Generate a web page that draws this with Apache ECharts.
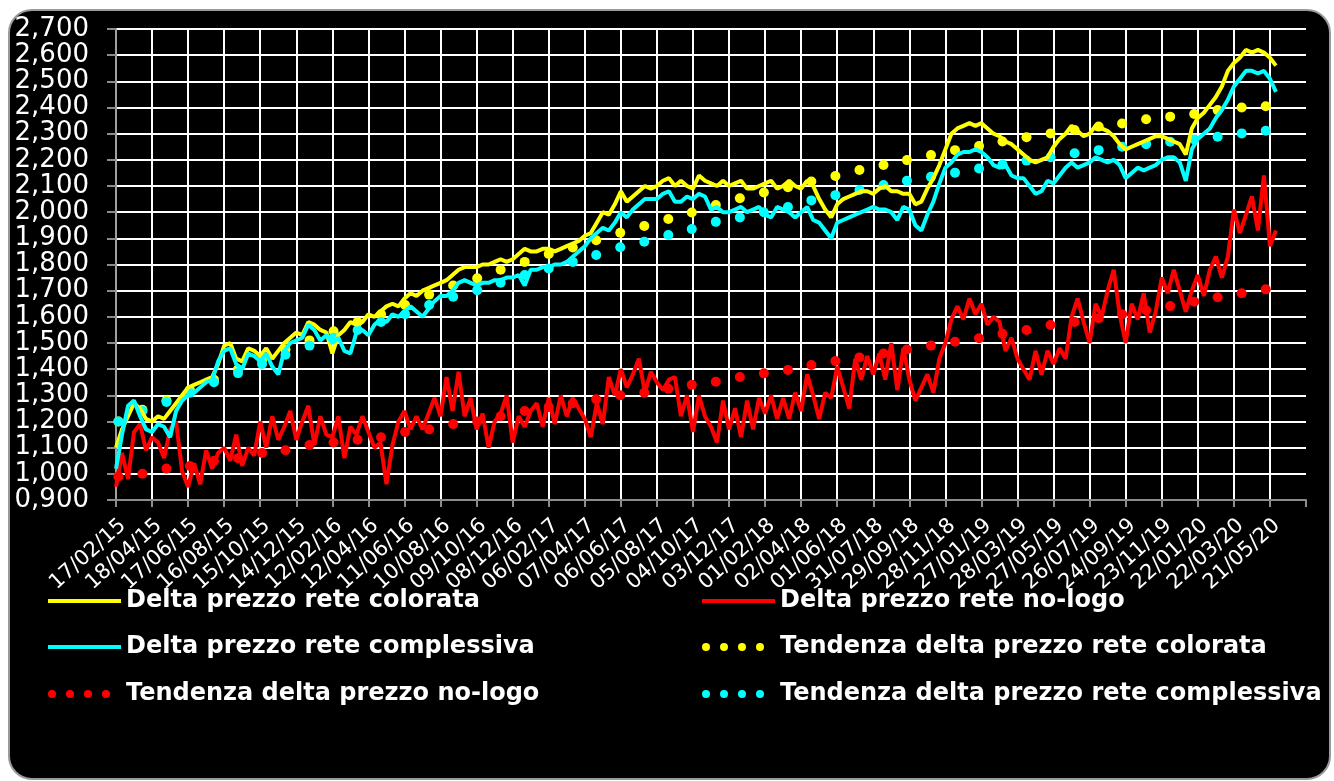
<!DOCTYPE html>
<html><head><meta charset="utf-8">
<script src="https://cdn.jsdelivr.net/npm/echarts@6/dist/echarts.min.js"></script>
<style>
html,body{margin:0;padding:0;background:#fff;width:1334px;height:781px;overflow:hidden}
#frame{position:absolute;left:8px;top:9px;width:1319px;height:767px;background:#000;border:2px solid #9a9a9a;border-radius:24px;}
#chart{position:absolute;left:0;top:0;width:1334px;height:781px}
</style></head><body>
<div id="frame"></div><div id="chart"></div>
<script>
// Day 0 = 17/02/2015; main series sampled every 10 days
const startDate = [2015, 1, 17];
const stepDays = 10;
const tickDays = 60;

const colorata = [1.10,1.17,1.22,1.27,1.25,1.21,1.20,1.22,1.21,1.24,
 1.27,1.30,1.33,1.34,1.35,1.36,1.37,1.42,1.49,1.50,
 1.44,1.43,1.48,1.47,1.45,1.48,1.44,1.47,1.50,1.52,
 1.54,1.53,1.58,1.57,1.55,1.54,1.46,1.53,1.55,1.58,
 1.57,1.58,1.61,1.60,1.62,1.64,1.65,1.64,1.67,1.69,
 1.68,1.70,1.71,1.72,1.73,1.74,1.76,1.78,1.79,1.79,
 1.79,1.80,1.80,1.81,1.82,1.81,1.82,1.84,1.86,1.85,
 1.85,1.86,1.86,1.85,1.86,1.87,1.88,1.89,1.91,1.92,
 1.96,2.00,1.99,2.03,2.08,2.04,2.06,2.08,2.10,2.09,
 2.10,2.12,2.13,2.10,2.12,2.10,2.09,2.14,2.12,2.11,
 2.10,2.12,2.10,2.11,2.12,2.09,2.09,2.10,2.11,2.12,
 2.09,2.10,2.12,2.10,2.09,2.12,2.10,2.05,2.01,1.98,
 2.03,2.05,2.06,2.07,2.08,2.08,2.07,2.09,2.10,2.08,
 2.08,2.07,2.07,2.03,2.04,2.09,2.13,2.18,2.24,2.30,
 2.32,2.33,2.34,2.33,2.34,2.32,2.30,2.29,2.27,2.26,
 2.24,2.22,2.20,2.19,2.20,2.21,2.25,2.28,2.30,2.33,
 2.31,2.29,2.30,2.33,2.32,2.31,2.29,2.26,2.24,2.25,
 2.26,2.27,2.28,2.29,2.29,2.28,2.27,2.26,2.22,2.32,
 2.36,2.38,2.41,2.44,2.48,2.54,2.57,2.59,2.62,2.61,
 2.62,2.61,2.59,2.56];

const complessiva = [1.02,1.15,1.26,1.28,1.22,1.17,1.16,1.19,1.18,1.14,
 1.24,1.28,1.30,1.31,1.33,1.35,1.36,1.43,1.47,1.48,
 1.42,1.40,1.46,1.45,1.43,1.46,1.41,1.38,1.47,1.50,
 1.51,1.52,1.57,1.55,1.51,1.53,1.50,1.52,1.47,1.46,
 1.54,1.55,1.53,1.57,1.59,1.58,1.61,1.60,1.62,1.64,
 1.62,1.60,1.63,1.66,1.68,1.68,1.70,1.73,1.74,1.73,
 1.72,1.73,1.73,1.74,1.74,1.75,1.75,1.76,1.72,1.78,
 1.78,1.79,1.79,1.80,1.80,1.81,1.83,1.85,1.87,1.90,
 1.92,1.94,1.93,1.96,2.00,1.98,2.01,2.03,2.05,2.05,
 2.05,2.07,2.08,2.04,2.04,2.06,2.05,2.07,2.06,2.01,
 2.02,2.00,2.00,2.01,2.02,2.00,2.01,2.02,1.99,1.98,
 2.02,2.01,2.00,1.98,2.00,2.02,1.97,1.96,1.93,1.90,
 1.96,1.97,1.98,1.99,2.00,2.01,2.02,2.01,2.01,2.00,
 1.97,2.02,2.01,1.95,1.93,1.99,2.04,2.11,2.17,2.19,
 2.22,2.23,2.23,2.24,2.23,2.21,2.18,2.17,2.18,2.14,
 2.13,2.13,2.10,2.07,2.08,2.12,2.11,2.14,2.17,2.19,
 2.17,2.18,2.19,2.21,2.20,2.19,2.20,2.18,2.13,2.15,
 2.17,2.16,2.17,2.18,2.20,2.21,2.21,2.19,2.12,2.24,
 2.28,2.30,2.32,2.36,2.39,2.43,2.48,2.51,2.54,2.54,
 2.53,2.54,2.51,2.46];

const noLogo = [0.95,1.08,0.98,1.16,1.19,1.09,1.14,1.12,1.06,1.17,
 1.20,1.01,0.95,1.04,0.96,1.09,1.02,1.08,1.10,1.05,
 1.15,1.03,1.10,1.07,1.20,1.10,1.22,1.13,1.18,1.24,
 1.13,1.20,1.26,1.11,1.22,1.15,1.14,1.22,1.06,1.18,
 1.15,1.22,1.16,1.10,1.12,0.96,1.11,1.20,1.24,1.17,
 1.22,1.17,1.23,1.29,1.22,1.37,1.24,1.39,1.22,1.29,
 1.17,1.23,1.10,1.20,1.23,1.30,1.12,1.22,1.18,1.24,
 1.27,1.18,1.29,1.19,1.30,1.22,1.29,1.25,1.21,1.14,
 1.27,1.19,1.37,1.30,1.40,1.33,1.38,1.44,1.31,1.39,
 1.35,1.32,1.36,1.37,1.22,1.30,1.16,1.30,1.22,1.18,
 1.12,1.28,1.17,1.25,1.14,1.28,1.17,1.29,1.23,1.30,
 1.21,1.29,1.21,1.31,1.24,1.38,1.30,1.21,1.31,1.29,
 1.41,1.33,1.25,1.44,1.36,1.45,1.38,1.46,1.36,1.50,
 1.32,1.48,1.36,1.28,1.33,1.38,1.31,1.44,1.50,1.59,
 1.64,1.59,1.67,1.61,1.65,1.57,1.60,1.58,1.47,1.52,
 1.44,1.40,1.36,1.47,1.38,1.47,1.42,1.48,1.44,1.60,
 1.67,1.58,1.50,1.65,1.60,1.70,1.78,1.61,1.50,1.65,
 1.59,1.69,1.54,1.62,1.75,1.69,1.78,1.70,1.62,1.70,
 1.76,1.68,1.78,1.83,1.75,1.83,2.01,1.92,1.99,2.06,
 1.93,2.14,1.87,1.93];

// Trend points: days since 17/02/2015
const trendDay = [4,44,84,123,163,203,243,282,322,362,402,441,481,521,561,601,640,680,720,760,
 799,839,879,919,958,998,1038,1078,1118,1157,1197,1237,1277,1316,1356,1396,1436,1475,1515,1555,
 1595,1635,1674,1714,1754,1794,1833,1873,1913];
const trendColorata = [1.20,1.245,1.28,1.32,1.36,1.40,1.435,1.475,1.51,1.545,1.58,1.61,1.645,1.685,1.72,1.747,1.78,1.81,1.84,1.865,
 1.893,1.921,1.947,1.974,1.999,2.027,2.053,2.075,2.095,2.117,2.138,2.161,2.18,2.199,2.218,2.237,2.253,2.27,2.286,2.301,
 2.314,2.327,2.339,2.355,2.365,2.375,2.39,2.40,2.405];
const trendNoLogo = [0.99,1.00,1.02,1.03,1.05,1.06,1.08,1.09,1.11,1.12,1.13,1.14,1.16,1.17,1.19,1.20,1.22,1.24,1.255,1.27,
 1.285,1.30,1.31,1.325,1.34,1.352,1.37,1.384,1.397,1.416,1.431,1.445,1.46,1.475,1.49,1.505,1.518,1.535,1.55,1.569,
 1.58,1.595,1.61,1.625,1.641,1.658,1.675,1.69,1.705];
const trendComplessiva = [1.20,1.24,1.275,1.31,1.35,1.385,1.42,1.455,1.49,1.52,1.55,1.58,1.61,1.645,1.677,1.702,1.73,1.76,1.785,1.81,
 1.836,1.866,1.887,1.913,1.936,1.963,1.98,2.00,2.02,2.045,2.065,2.085,2.104,2.12,2.135,2.151,2.167,2.182,2.197,2.21,
 2.225,2.237,2.25,2.26,2.269,2.278,2.288,2.301,2.311];

const names = ['Delta prezzo rete colorata','Delta prezzo rete no-logo','Delta prezzo rete complessiva',
 'Tendenza delta prezzo rete colorata','Tendenza delta prezzo no-logo','Tendenza delta prezzo rete complessiva'];
const colors = {yellow:'#ffff00', red:'#ff0000', cyan:'#00ffff'};

const lastTickDay = 1920;
const maxDay = 1980;

const t0 = Date.UTC(startDate[0], startDate[1], startDate[2]);
function fmtDay(d){
  const dt = new Date(t0 + Math.round(d) * 86400000);
  const p = n => String(n).padStart(2,'0');
  return p(dt.getUTCDate()) + '/' + p(dt.getUTCMonth()+1) + '/' + p(dt.getUTCFullYear() % 100);
}
const regular = vals => vals.map((v,i)=>[i*stepDays, v]);
const trend = vals => vals.map((v,i)=>[trendDay[i], v]);

const lineIcon = 'path://M0,0h0.05v0.05h-0.05z M0,5h73v4h-73z M72.95,13.95h0.05v0.05h-0.05z';
const dotIcon = 'path://M0,0h0.05v0.05h-0.05z M0,7a4,4 0 1,0 8,0a4,4 0 1,0 -8,0z M18,7a4,4 0 1,0 8,0a4,4 0 1,0 -8,0z M36,7a4,4 0 1,0 8,0a4,4 0 1,0 -8,0z M54,7a4,4 0 1,0 8,0a4,4 0 1,0 -8,0z M72.95,13.95h0.05v0.05h-0.05z';

const legendText = {color:'#fff', fontFamily:'DejaVu Sans', fontWeight:'bold', fontSize:24};
function mkLegend(name, icon, left, top){
  return {data:[{name:name, icon:icon}], left:left, top:top, itemWidth:73, itemHeight:14,
    itemGap:0, padding:0, selectedMode:false, textStyle:legendText, symbolKeepAspect:true};
}

const chart = echarts.init(document.getElementById('chart'), null, {renderer:'canvas'});
chart.setOption({
  backgroundColor:'transparent',
  animation:false,
  grid:{left:116, right:28, top:29, bottom:281},
  legend:[
    mkLegend(names[0], lineIcon, 48, 589),
    mkLegend(names[1], lineIcon, 702, 589),
    mkLegend(names[2], lineIcon, 48, 635),
    mkLegend(names[3], dotIcon, 702, 635),
    mkLegend(names[4], dotIcon, 48, 682),
    mkLegend(names[5], dotIcon, 702, 682)
  ],
  xAxis:{type:'value', min:0, max:maxDay, interval:tickDays,
    axisLine:{lineStyle:{color:'#8c8c8c', width:2}},
    axisTick:{length:7, lineStyle:{color:'#8c8c8c', width:2}},
    axisLabel:{rotate:42, color:'#fff', fontFamily:'DejaVu Sans', fontSize:21, margin:15,
      align:'right', verticalAlign:'top',
      formatter:d => d > lastTickDay ? '' : fmtDay(d)},
    splitLine:{show:true, showMinLine:false, showMaxLine:false, lineStyle:{color:'#fff', width:2}}
  },
  yAxis:{type:'value', min:0.9, max:2.7, interval:0.1,
    axisLine:{show:true, lineStyle:{color:'#a0a0a0', width:2}},
    axisTick:{show:true, length:9, lineStyle:{color:'#8c8c8c', width:2}},
    axisLabel:{color:'#fff', fontFamily:'DejaVu Sans', fontSize:26, margin:27,
      formatter:v => v.toFixed(3).replace('.', ',')},
    splitLine:{show:true, showMinLine:false, lineStyle:{color:'#fff', width:2}}
  },
  series:[
    {name:names[0], type:'line', data:regular(colorata), showSymbol:false, color:colors.yellow,
      lineStyle:{width:4, color:colors.yellow}},
    {name:names[1], type:'line', data:regular(noLogo), showSymbol:false, color:colors.red,
      lineStyle:{width:4, color:colors.red}},
    {name:names[2], type:'line', data:regular(complessiva), showSymbol:false, color:colors.cyan,
      lineStyle:{width:4, color:colors.cyan}},
    {name:names[3], type:'scatter', data:trend(trendColorata), symbolSize:10, color:colors.yellow,
      itemStyle:{opacity:1}},
    {name:names[4], type:'scatter', data:trend(trendNoLogo), symbolSize:10, color:colors.red,
      itemStyle:{opacity:1}},
    {name:names[5], type:'scatter', data:trend(trendComplessiva), symbolSize:10, color:colors.cyan,
      itemStyle:{opacity:1}}
  ]
});
</script></body></html>
